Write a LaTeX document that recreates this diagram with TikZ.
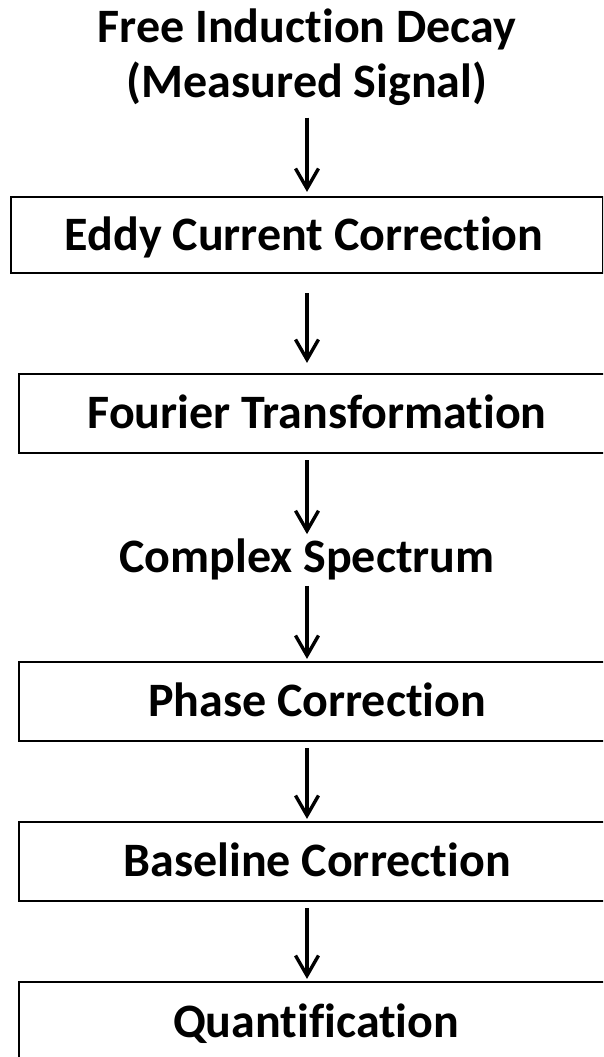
\documentclass[tikz,border=0pt]{standalone}
\usepackage{fontspec}
\setmainfont{Carlito}[Ligatures={NoCommon}]
\usetikzlibrary{
    arrows.meta,
    positioning,
    calc
}
\tikzset{
    % --- Processing stage (box runs off the right edge) ---
    stage/.style n args = {2}{
        rectangle, draw, line width=2.2pt,
        minimum width=640pt, minimum height=79pt,
        anchor=west, inner sep=0pt,
        label={[stage text, xshift=#2]center:#1}
    },
    % --- Text inside a stage box ---
    stage text/.style = {
        font=\fontsize{48}{55}\selectfont\bfseries,
        text height=30.5pt, text depth=0pt, inner sep=0pt
    },
    % --- Free-standing signal label ---
    signal/.style = {
        font=\fontsize{48}{55}\selectfont\bfseries,
        align=center, inner sep=0pt
    },
    % --- Flow arrow ---
    flow/.style = {
        -{Straight Barb[length=20pt, width=23pt]}, line width=3.4pt,
        shorten <=6pt, shorten >=2pt
    }
}
\begin{document}
\begin{tikzpicture}[x=1pt, y=1pt]

\useasboundingbox (0,0) rectangle (603,-1057);
\clip (0,0) rectangle (603,-1057);

% ---------------------------------------------------------
% Measured signal (top)
% ---------------------------------------------------------
\node[signal] (FID) at (307,-57) {Free Induction Decay\\(Measured Signal)};

% ---------------------------------------------------------
% Processing chain
% ---------------------------------------------------------
\node[stage={Eddy Current Correction}{-3pt}, minimum width=592pt, minimum height=76pt] (ECC) at (10,-235) {};
\node[stage={Fourier Transformation}{-22pt}] (FT) at (18,-413.5) {};
\node[signal, anchor=base] (CS) at (307,-572) {Complex Spectrum};
\node[stage={Phase Correction}{-22pt}] (PC) at (18,-701.5) {};
\node[stage={Baseline Correction}{-22pt}] (BC) at (18,-861.5) {};
\node[stage={Quantification}{-23pt}, minimum height=80pt] (QU) at (18,-1022) {};

% ---------------------------------------------------------
% Connections
% ---------------------------------------------------------
\draw[flow, shorten <=12pt, shorten >=4pt] (FID) -- (ECC.north -| FID);
\draw[flow, shorten <=19pt, shorten >=10pt] (ECC.south -| FID) -- (FT.north -| FID);
\draw[flow, shorten >=4pt] (FT.south -| FID) -- (CS);
\draw[flow] (CS) -- (PC.north -| CS);
\draw[flow] (PC.south -| CS) -- (BC.north -| CS);
\draw[flow] (BC.south -| CS) -- (QU.north -| CS);

\end{tikzpicture}
\end{document}
